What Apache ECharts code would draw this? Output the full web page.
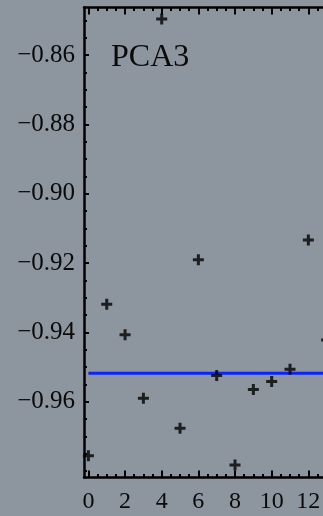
<!DOCTYPE html>
<html>
<head>
<meta charset="utf-8">
<script src="https://cdn.jsdelivr.net/npm/echarts@6/dist/echarts.min.js"></script>
<style>
html,body{margin:0;padding:0;background:#8d959e;}
#c{width:323px;height:516px;}
</style>
</head>
<body>
<div id="c"></div>
<script>
// ---- data ----
const xValues = [0, 1, 2, 3, 4, 5, 6, 7, 8, 9, 10, 11, 12, 13];
const yValues = [-0.9756, -0.9319, -0.9407, -0.9590, -0.8496, -0.9677, -0.9191,
                 -0.9525, -0.9783, -0.9565, -0.9542, -0.9507, -0.9134, -0.9422];
const meanValue = -0.9518;
const meanRange = [0, 14];
const xMajorTicks = [0, 2, 4, 6, 8, 10, 12, 14];
const xMinorTicks = [0.5, 1, 1.5, 2.5, 3, 3.5, 4.5, 5, 5.5, 6.5, 7, 7.5, 8.5, 9, 9.5,
                     10.5, 11, 11.5, 12.5, 13, 13.5];
const yMajorTicks = [-0.96, -0.94, -0.92, -0.90, -0.88, -0.86];
const yMinorTicks = [-0.98, -0.975, -0.97, -0.965, -0.955, -0.95, -0.945, -0.935, -0.93,
                     -0.925, -0.915, -0.91, -0.905, -0.895, -0.89, -0.885, -0.875,
                     -0.87, -0.865, -0.855, -0.85];
const panelTitle = 'PCA3';

const X_MIN = -0.24, X_MAX = 14, Y_MIN = -0.9819, Y_MAX = -0.8463;
const FONT = '"Liberation Serif", "DejaVu Serif", serif';
const plus = 'path://M4,0H7V4H11V7H7V11H4V7H0V4H4Z';

function yFmt(v) { return (v < 0 ? '\u2212' : '') + Math.abs(v).toFixed(2); }

function xAx(pos, major, labels) {
  return {
    type: 'value', position: pos, min: X_MIN, max: X_MAX,
    axisLine: { show: major, onZero: false, lineStyle: { color: '#000', width: 2.5 } },
    axisTick: { show: true, inside: true, length: major ? 7 : 3.5,
      customValues: major ? xMajorTicks : xMinorTicks,
      lineStyle: { color: '#000', width: 2 } },
    axisLabel: labels ? { show: true, customValues: xMajorTicks, margin: 12,
      color: '#0a0a0a', fontFamily: FONT, fontSize: 24 } : { show: false },
    splitLine: { show: false }
  };
}
function yAx(major, labels) {
  return {
    type: 'value', position: 'left', min: Y_MIN, max: Y_MAX,
    axisLine: { show: major, onZero: false, lineStyle: { color: '#000', width: 2.5 } },
    axisTick: { show: true, inside: true, length: major ? 5 : 3,
      customValues: major ? yMajorTicks : yMinorTicks,
      lineStyle: { color: '#000', width: 2 } },
    axisLabel: labels ? { show: true, customValues: yMajorTicks, margin: 9,
      color: '#0a0a0a', fontFamily: FONT, fontSize: 25, formatter: yFmt } : { show: false },
    splitLine: { show: false }
  };
}

const chart = echarts.init(document.getElementById('c'), null, { renderer: 'canvas' });
chart.setOption({
  backgroundColor: '#8d959e',
  animation: false,
  title: {
    text: panelTitle, left: 106, top: 37,
    textStyle: { fontFamily: FONT, fontSize: 32, fontWeight: 'normal', color: '#0a0a0a' }
  },
  grid: { left: 84, top: 7.5, width: 261, height: 470, containLabel: false,
          outerBoundsMode: 'none' },
  xAxis: [xAx('bottom', true, true), xAx('bottom', false, false),
          xAx('top', true, false), xAx('top', false, false)],
  yAxis: [yAx(true, true), yAx(false, false)],
  series: [
    {
      type: 'line', xAxisIndex: 0, yAxisIndex: 0,
      data: meanRange.map(x => [x, meanValue]),
      symbol: 'none', lineStyle: { color: '#0a24ff', width: 3 }, z: 2
    },
    {
      type: 'scatter', xAxisIndex: 0, yAxisIndex: 0,
      data: xValues.map((x, i) => [x, yValues[i]]),
      symbol: plus, symbolSize: 11,
      itemStyle: { color: '#000' }, z: 3
    }
  ]
});
</script>
</body>
</html>
